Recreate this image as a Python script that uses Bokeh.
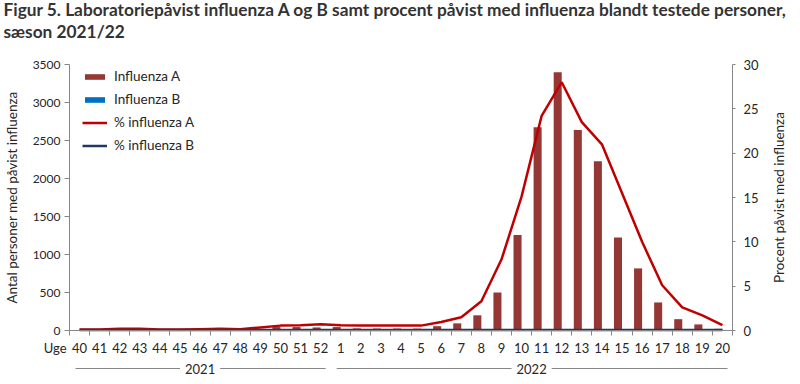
import math
from bokeh.plotting import figure
from bokeh.models import (Range1d, LinearAxis, FixedTicker, Legend, LegendItem,
                          Title, Label, Arrow, ColumnDataSource)
from bokeh.embed import file_html
from bokeh.resources import INLINE

# ---------------- data ----------------
weeks = ["40", "41", "42", "43", "44", "45", "46", "47", "48", "49", "50", "51", "52",
         "1", "2", "3", "4", "5", "6", "7", "8", "9", "10", "11", "12", "13", "14",
         "15", "16", "17", "18", "19", "20"]
influenza_a = [5, 8, 15, 15, 8, 8, 12, 12, 12, 20, 45, 45, 40,
               45, 28, 26, 26, 25, 57, 94, 200, 500, 1255, 2673, 3397, 2638, 2226,
               1225, 817, 369, 149, 80, 22]
influenza_b = [1, 1, 2, 2, 1, 1, 2, 2, 1, 1, 2, 2, 1,
               1, 1, 1, 1, 2, 3, 3, 4, 3, 3, 4, 4, 3, 3,
               2, 2, 2, 1, 1, 1]
pct_a = [0.1, 0.1, 0.2, 0.2, 0.1, 0.1, 0.15, 0.2, 0.15, 0.35, 0.55, 0.6, 0.7,
         0.6, 0.55, 0.55, 0.55, 0.55, 0.95, 1.5, 3.3, 8.0, 15.1, 24.2, 28.0, 23.5, 21.0,
         15.5, 10.0, 5.1, 2.6, 1.7, 0.6]
pct_b = [0.05] * 33
years = ["2021", "2022"]
year_groups = [(0, 12), (13, 32)]
left_ticks = [0, 500, 1000, 1500, 2000, 2500, 3000, 3500]
right_ticks = [0, 5, 10, 15, 20, 25, 30]
YMAX, PMAX = 3500, 30

FONT = "Lato"
TXT = "#262626"
AXC = "#868686"

n = len(weeks)
idx = list(range(n))
src = ColumnDataSource(dict(
    x=idx,
    xa=[i - 0.2 for i in idx],
    xb=[i + 0.2 for i in idx],
    a=influenza_a, b=influenza_b, pa=pct_a, pb=pct_b))

# layout in pixels: the axes' plot area is 663 x 266 px, starting 69 px from the left;
# the frame covers the whole width (and a little more height) so that texts beside,
# above and below the axes can be drawn
FRAME_W = 800
AXIS_L = 69
CAT_PX = 663 / n            # px per category
AX_H = 266                  # px between 0 and top of axes
EXT_B, EXT_T = 45, 8
u = YMAX / AX_H             # left-axis data units per px
up = PMAX / AX_H            # right-axis data units per px
x0 = -0.5 - AXIS_L / CAT_PX
x1 = x0 + FRAME_W / CAT_PX

p = figure(frame_width=FRAME_W, frame_height=AX_H + EXT_B + EXT_T,
           output_backend="svg", toolbar_location=None,
           x_range=Range1d(x0, x1), y_range=Range1d(-EXT_B * u, YMAX + EXT_T * u),
           min_border_left=0, min_border_right=0, min_border_bottom=0,
           min_border_top=0)
p.extra_y_ranges = {"pct": Range1d(-EXT_B * up, PMAX + EXT_T * up)}
p.outline_line_color = None
p.xgrid.grid_line_color = None
p.ygrid.grid_line_color = None
p.background_fill_color = "white"
p.border_fill_color = "white"

# bars
ra = p.vbar(x="xa", top="a", width=0.4, source=src, fill_color="#953735", line_color=None)
rb = p.vbar(x="xb", top="b", width=0.4, source=src, fill_color="#0070C0", line_color=None)
# lines
la = p.line(x="x", y="pa", source=src, y_range_name="pct", line_color="#C00000", line_width=2.5)
lb = p.line(x="x", y="pb", source=src, y_range_name="pct", line_color="#1F3864", line_width=2.5)

# x axis (fixed at y = 0)
xax = p.xaxis[0]
xax.fixed_location = 0
xax.bounds = (-0.5, n - 0.5)
xax.ticker = FixedTicker(ticks=idx, minor_ticks=[i - 0.5 for i in range(n + 1)])
xax.major_label_overrides = {i: w for i, w in enumerate(weeks)}
xax.major_tick_line_color = None
xax.major_tick_out = 2
xax.major_tick_in = 0
xax.minor_tick_out = 5
xax.minor_tick_in = 0
xax.minor_tick_line_color = AXC
xax.axis_line_color = AXC
xax.major_label_text_font = FONT
xax.major_label_text_font_size = "13px"
xax.major_label_text_color = TXT
xax.major_label_standoff = 7

# left axis (fixed at first category edge)
yax = p.yaxis[0]
yax.fixed_location = -0.5
yax.bounds = (0, YMAX)
yax.ticker = FixedTicker(ticks=left_ticks)
yax.minor_tick_line_color = None
yax.major_tick_out = 5
yax.major_tick_in = 0
yax.major_tick_line_color = AXC
yax.axis_line_color = AXC
yax.major_label_text_font = FONT
yax.major_label_text_font_size = "12px"
yax.major_label_text_color = TXT
yax.major_label_standoff = 4
yax.axis_label = "Antal personer med påvist influenza"
yax.axis_label_text_font = FONT
yax.axis_label_text_font_size = "13.5px"
yax.axis_label_text_font_style = "normal"
yax.axis_label_text_color = TXT
yax.axis_label_standoff = 10

# right axis (fixed at last category edge)
rax = LinearAxis(y_range_name="pct", ticker=FixedTicker(ticks=right_ticks))
rax.fixed_location = n - 0.5
rax.bounds = (0, PMAX)
rax.minor_tick_line_color = None
rax.major_tick_out = 3
rax.major_tick_in = 0
rax.major_tick_line_color = AXC
rax.axis_line_color = AXC
rax.major_label_text_font = FONT
rax.major_label_text_font_size = "13px"
rax.major_label_text_color = TXT
rax.major_label_standoff = 8
p.add_layout(rax, "right")
p.add_layout(Label(x=n - 0.5 + 46 / CAT_PX, y=PMAX / 2, y_range_name="pct",
                   text="Procent påvist med influenza", angle=math.pi / 2,
                   text_align="center", text_baseline="middle", text_font=FONT,
                   text_font_size="13.5px", text_color=TXT))

# legend
legend = Legend(items=[
    LegendItem(label="Influenza A", renderers=[ra]),
    LegendItem(label="Influenza B", renderers=[rb]),
    LegendItem(label="% influenza A", renderers=[la]),
    LegendItem(label="% influenza B", renderers=[lb]),
], location=(AXIS_L + 13, AX_H + EXT_B - 89 - 2))
legend.margin = 0
legend.padding = 0
legend.border_line_color = None
legend.background_fill_alpha = 0
legend.glyph_width = 25
legend.glyph_height = 7
legend.label_height = 20
legend.spacing = 3
legend.label_standoff = 7
legend.label_text_font = FONT
legend.label_text_font_size = "13.5px"
legend.label_text_color = TXT
p.add_layout(legend, "center")

# titles (first added sits nearest the frame)
p.add_layout(Title(text=" ", text_font=FONT, text_font_size="2px",
                   align="left", standoff=8), "above")
p.add_layout(Title(text="sæson  2021/22", text_font=FONT, text_font_size="17.3px",
                   text_font_style="bold", text_color="#333333", align="left",
                   offset=3, standoff=6), "above")
p.add_layout(Title(text="Figur 5. Laboratoriepåvist influenza A og B samt procent påvist med influenza blandt testede personer,",
                   text_font=FONT, text_font_size="17.3px", text_font_style="bold",
                   text_color="#333333", align="left", offset=3, standoff=-8), "above")

# below-axis texts: "Uge" and year groups with rules
p.add_layout(Label(x=-0.5 - 3 / CAT_PX, y=-17 * u, text="Uge", text_align="right",
                   text_baseline="middle", text_font=FONT, text_font_size="13px",
                   text_color=TXT))
yy = -38 * u
for yr, (g0, g1) in zip(years, year_groups):
    mid = (g0 + g1) / 2.0
    p.add_layout(Label(x=mid, y=yy, text=yr, text_align="center", text_baseline="middle",
                       text_font=FONT, text_font_size="13px", text_color=TXT))
    p.add_layout(Arrow(end=None, x_start=g0 - 0.2, y_start=yy, x_end=mid - 1.0, y_end=yy,
                       line_color=AXC, line_width=1))
    p.add_layout(Arrow(end=None, x_start=mid + 1.0, y_start=yy, x_end=g1 + 0.25, y_end=yy,
                       line_color=AXC, line_width=1))

open("out.html", "w").write(file_html(p, INLINE))
